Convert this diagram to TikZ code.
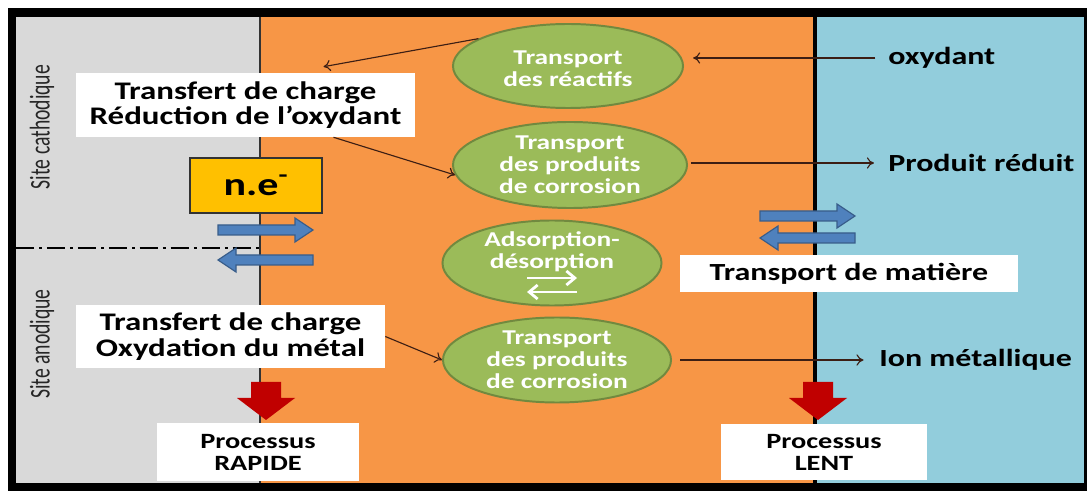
\documentclass[tikz,border=0pt]{standalone}
\usepackage{fontspec}
\setmainfont{Carlito}[FakeStretch=1.3]
\newfontfamily\sitefont{Carlito}
\usetikzlibrary{shapes.geometric,arrows.meta,calc,positioning}

\definecolor{greyzone}{RGB}{217,217,217}
\definecolor{orangezone}{RGB}{247,150,70}
\definecolor{bluezone}{RGB}{146,205,220}
\definecolor{ellgreen}{RGB}{155,187,89}
\definecolor{ellborder}{RGB}{113,137,63}
\definecolor{arrowblue}{RGB}{79,129,189}
\definecolor{arrowedge}{RGB}{56,93,138}
\definecolor{arrowred}{RGB}{192,0,0}
\definecolor{chargeyellow}{RGB}{255,192,0}
\definecolor{linkbrown}{RGB}{60,30,20}

\tikzset{
  whitebox/.style={fill=white, align=center, inner sep=0pt,
                   font=\bfseries\fontsize{18}{18}\selectfont},
  greenell/.style={ellipse, fill=ellgreen, draw=ellborder, line width=1.4pt, inner sep=0pt},
  elltext/.style={text=white, align=center, font=\bfseries\fontsize{15}{15.6}\selectfont},
  sidetext/.style={anchor=west, inner sep=0pt, font=\bfseries\fontsize{17.5}{18}\selectfont},
  sitetext/.style={rotate=90, inner sep=0pt, text=black!85, font=\sitefont\fontsize{14}{15}\selectfont},
  link/.style={draw=linkbrown, line width=0.8pt, -{To[length=5pt,width=8pt]}},
  bluearrow/.pic={
    \filldraw[fill=arrowblue, draw=arrowedge, line width=0.8pt]
      (0,-5) -- (77,-5) -- (77,-12) -- (95,0) -- (77,12) -- (77,5) -- (0,5) -- cycle;},
  reddown/.pic={
    \fill[arrowred] (-15,0) -- (15,0) -- (15,16) -- (29,16) -- (0,38) -- (-29,16) -- (-15,16) -- cycle;}
}

\begin{document}
\begin{tikzpicture}[x=0.025cm, y=-0.025cm]

  \useasboundingbox (0,0) rectangle (1087,491);
  % zones
  \fill[white] (0,0) rectangle (1087,491);
  \fill[black] (8,8) rectangle (1087,491);
  \fill[greyzone] (16,17) rectangle (260,483);
  \fill[orangezone] (260,17) rectangle (815,483);
  \fill[bluezone] (815,17) rectangle (1084,483);
  \draw[black!80, line width=1.4pt] (260,17) -- (260,483);
  \draw[black, line width=2.2pt] (815,17) -- (815,483);
  \draw[black, line width=1.3pt, dash pattern=on 13pt off 3.5pt on 2pt off 3.5pt] (16,248) -- (260,248);

  % site labels
  \node[sitetext] (cath) at (42,127) {\scalebox{1}[1.45]{Site cathodique}};
  \node[sitetext] (anod) at (42,344) {\scalebox{1}[1.45]{Site anodique}};

  % boxes
  \node[whitebox, minimum width=8.475cm, minimum height=1.6cm] (box1) at (245.5,105)
    {Transfert de charge\\Réduction de l’oxydant};
  \node[whitebox, minimum width=7.725cm, minimum height=1.575cm] (box3) at (230.5,336.5)
    {Transfert de charge\\Oxydation du métal};
  \node[fill=chargeyellow, draw=black!80, line width=0.9pt, minimum width=3.3cm, minimum height=1.375cm,
        font=\bfseries\fontsize{23}{24}\selectfont] (ne) at (256,185.5) {n.e\textsuperscript{-}};
  \node[whitebox, minimum width=5.05cm, minimum height=1.45cm,
        font=\bfseries\fontsize{15.5}{15.6}\selectfont] (rapide) at (258,452) {Processus\\RAPIDE};
  \node[whitebox, minimum width=5.15cm, minimum height=1.4cm,
        font=\bfseries\fontsize{15.5}{15.6}\selectfont] (lent) at (824,452) {Processus\\LENT};
  \node[whitebox, minimum width=8.45cm, minimum height=0.925cm,
        font=\bfseries\fontsize{17.5}{18}\selectfont] (matiere) at (849,273.5) {Transport de matière};

  % ellipses
  \node[greenell, minimum width=5.75cm, minimum height=2.1cm,
        label={[elltext, yshift=-2pt]center:{Transport\\des réactifs}}] (e1) at (568,66) {};
  \node[greenell, minimum width=5.85cm, minimum height=2.15cm,
        label={[elltext]center:{Transport\\des produits\\de corrosion}}] (e2) at (570,165) {};
  \node[greenell, minimum width=5.475cm, minimum height=2.125cm,
        label={[elltext, yshift=8pt]center:{Adsorption-\\désorption}}] (e3) at (552,263) {};
  \node[greenell, minimum width=5.7cm, minimum height=2.125cm,
        label={[elltext]center:{Transport\\des produits\\de corrosion}}] (e4) at (557,360) {};

  \draw[white, line width=2pt, -{Straight Barb[length=6pt,width=10pt]}]
    ($(e3)+(-25,15)$) -- ($(e3)+(25,15)$);
  \draw[white, line width=2pt, -{Straight Barb[length=6pt,width=10pt]}]
    ($(e3)+(25,29)$) -- ($(e3)+(-25,29)$);

  % side labels
  \node[sidetext] (ox) at (888,58) {oxydant};
  \node[sidetext] (pr) at (888,163) {Produit réduit};
  \node[sidetext] (ion) at (879,360) {Ion métallique};

  % links
  \draw[link, shorten <=9pt, shorten >=6.5pt] (ox.west) -- (e1.east |- ox.west);
  \draw[link, shorten <=2pt, shorten >=10pt] (e2.east |- pr.west) -- (pr.west);
  \draw[link, shorten <=6pt, shorten >=11pt] (e4.east |- ion.west) -- (ion.west);
  \draw[link] (e1.163) -- ($(box1.north)+(78,-6)$);
  \draw[link] ($(box1.south)+(88,0)$) -- (e2.185);
  \draw[link] (box3.east) -- (e4.west);

  % block arrows
  \pic at (218,230) {bluearrow};
  \pic[rotate=180] at (313,260) {bluearrow};
  \pic at (760,216) {bluearrow};
  \pic[rotate=180] at (855,238) {bluearrow};
  \pic at (266,382) {reddown};
  \pic at (818,382) {reddown};

\end{tikzpicture}
\end{document}
